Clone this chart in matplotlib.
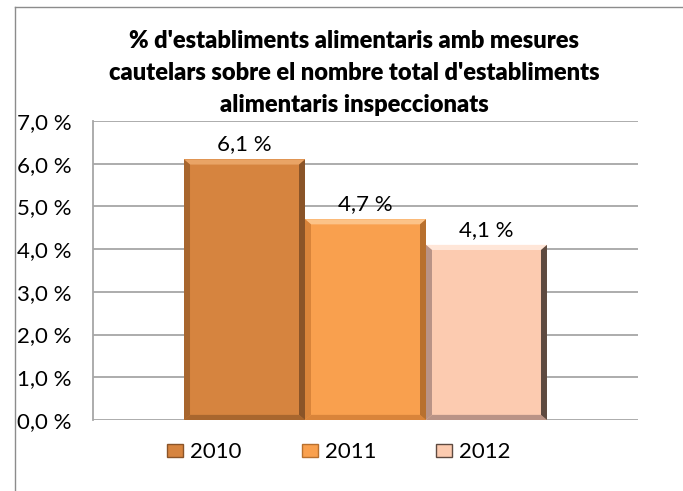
import matplotlib
matplotlib.use("Agg")
import matplotlib.pyplot as plt
from matplotlib.patches import Polygon, Rectangle
from matplotlib.lines import Line2D
from matplotlib.ticker import FuncFormatter
import numpy as np

years = ["2010", "2011", "2012"]
values = [6.1, 4.7, 4.1]
value_labels = ["6,1 %", "4,7 %", "4,1 %"]
yticks = [0, 1, 2, 3, 4, 5, 6, 7]
title = ("% d'establiments alimentaris amb mesures\n"
         "cautelars sobre el nombre total d'establiments\n"
         "alimentaris inspeccionats")

face = ["#D6843F", "#F9A04E", "#FCCBB0"]
light = ["#E9A466", "#FCC388", "#FFE6D8"]
dark = ["#A8662E", "#D9843A", "#B99386"]
side = ["#8A5428", "#B8702E", "#5E4A40"]

plt.rcParams['font.family'] = ['Lato', 'DejaVu Sans']

W, H = 683, 491
fig = plt.figure(figsize=(W / 100, H / 100), dpi=100)
ax = fig.add_axes([93 / W, 1 - 420 / H, (638 - 93) / W, (420 - 121) / H])

bw = 0.222
xs = [(i - 1) * bw for i in range(3)]
bars = ax.bar(xs, values, width=bw, color=face, edgecolor='none', zorder=3)

for i, b in enumerate(bars):
    x0, y0 = b.get_x(), b.get_y()
    w, h = b.get_width(), b.get_height()
    x1, y1 = x0 + w, y0 + h
    tx, ty = 0.011, 0.12
    polys = [
        ([(x0, y1), (x1, y1), (x1 - tx, y1 - ty), (x0 + tx, y1 - ty)], light[i]),
        ([(x0, y0), (x1, y0), (x1 - tx, y0 + ty), (x0 + tx, y0 + ty)], dark[i]),
        ([(x0, y0), (x0, y1), (x0 + tx, y1 - ty), (x0 + tx, y0 + ty)], dark[i]),
        ([(x1, y0), (x1, y1), (x1 - tx, y1 - ty), (x1 - tx, y0 + ty)], side[i]),
    ]
    for pts, c in polys:
        ax.add_patch(Polygon(pts, closed=True, facecolor=c, edgecolor='none', zorder=4))
    ax.text(b.get_x() + w / 2, y1 + 0.12, value_labels[i], ha='center', va='bottom',
            fontsize=16, color='black', zorder=5)

ax.set_xlim(-0.5, 0.5)
ax.set_ylim(0, 7)
ax.set_yticks(yticks)
ax.yaxis.set_major_formatter(FuncFormatter(lambda v, p: f"{v:.1f} %".replace('.', ',')))
ax.tick_params(axis='y', length=0, labelsize=16, pad=54.7)
for lab in ax.get_yticklabels():
    lab.set_horizontalalignment('left')
ax.set_xticks([])
ax.grid(axis='y', color='#A6A6A6', linewidth=1.3, zorder=0)
for s in ['top', 'right', 'bottom']:
    ax.spines[s].set_visible(False)
ax.spines['left'].set_color('#A6A6A6')
ax.spines['left'].set_linewidth(1.3)

fig.text(354 / W, 1 - 73 / H, title, ha='center', va='center', fontsize=17,
         fontweight='heavy', linespacing=1.55)

# outer frame (top and left edges visible)
fig.add_artist(Line2D([15 / W, 1], [1 - 7 / H, 1 - 7 / H], color='#8C8C8C', linewidth=1.0))
fig.add_artist(Line2D([15 / W, 15 / W], [0, 1 - 7 / H], color='#8C8C8C', linewidth=1.0))

handles = [Rectangle((0, 0), 1, 1, facecolor=face[i], edgecolor=side[i], linewidth=1.0)
           for i in range(3)]
fig.legend(handles, years, loc='center', bbox_to_anchor=(339 / W, 1 - 452 / H), ncol=3,
           frameon=False, fontsize=16, handlelength=0.72, handleheight=0.54,
           handletextpad=0.31, columnspacing=2.7)

fig.savefig("out.png", dpi=100)
